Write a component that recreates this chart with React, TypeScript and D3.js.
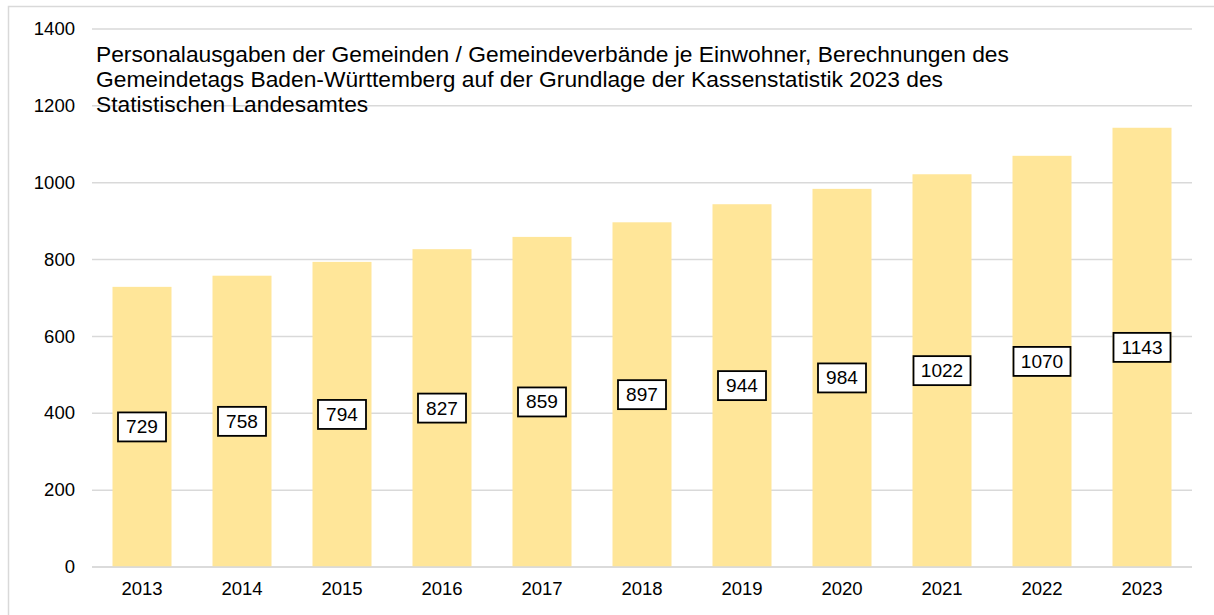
import React from "react";
import * as d3 from "d3";

const years = ["2013","2014","2015","2016","2017","2018","2019","2020","2021","2022","2023"];
const values = [729, 758, 794, 827, 859, 897, 944, 984, 1022, 1070, 1143];
const yTicks = [0, 200, 400, 600, 800, 1000, 1200, 1400];
const titleLines = [
  "Personalausgaben der Gemeinden / Gemeindeverbände je Einwohner, Berechnungen des",
  "Gemeindetags Baden-Württemberg auf der Grundlage der Kassenstatistik 2023 des",
  "Statistischen Landesamtes",
];

const W = 1214, H = 615;
const FONT = "'Liberation Sans', Arial, sans-serif";
const SX = 1.06;

function T(props: { x: number; y: number; anchor?: string; size: number; dy?: string; children: any }) {
  return (
    <text
      transform={`translate(${props.x},${props.y}) scale(${SX},1)`}
      dy={props.dy}
      textAnchor={props.anchor || "start"}
      fontSize={props.size}
      fill="#000"
    >
      {props.children}
    </text>
  );
}

export default function App() {
  const x = d3.scaleBand<string>().domain(years).range([92, 1192]).paddingInner(0.41).paddingOuter(0.205);
  const y = d3.scaleLinear().domain([0, 1400]).range([567, 29]);
  const labelW = (v: number) => (String(v).length > 3 ? 57 : 48);
  return (
    <svg width={W} height={H} style={{ position: "absolute", left: 0, top: 0, fontFamily: FONT }}>
      <rect x={0} y={0} width={W} height={H} fill="#fff" />
      <rect x={8.5} y={6.5} width={W + 20} height={H + 20} fill="none" stroke="#D9D9D9" strokeWidth={1.5} />
      {yTicks.map((t) => (
        <g key={t}>
          <line x1={92} x2={1192} y1={y(t)} y2={y(t)} stroke="#D9D9D9" strokeWidth={1.5} />
          <T x={75} y={y(t)} dy="0.35em" anchor="end" size={17.5}>{t}</T>
        </g>
      ))}
      {years.map((yr, i) => (
        <rect key={yr} x={x(yr)} y={y(values[i])} width={x.bandwidth()} height={y(0) - y(values[i])} fill="#FFE699" />
      ))}
      <line x1={92} x2={1192} y1={y(0)} y2={y(0)} stroke="#D9D9D9" strokeWidth={1.5} />
      {years.map((yr) => (
        <T key={yr} x={(x(yr) as number) + x.bandwidth() / 2} y={595} anchor="middle" size={17.5}>{yr}</T>
      ))}
      {titleLines.map((l, i) => (
        <T key={i} x={96} y={62 + i * 25} size={21.5}>{l}</T>
      ))}
      {years.map((yr, i) => {
        const cx = (x(yr) as number) + x.bandwidth() / 2;
        const cy = (y(0) + y(values[i])) / 2;
        const w = labelW(values[i]);
        return (
          <g key={"l" + yr}>
            <rect x={cx - w / 2} y={cy - 14.5} width={w} height={29} fill="#fff" stroke="#000" strokeWidth={1.8} />
            <T x={cx} y={cy} dy="0.36em" anchor="middle" size={18}>{values[i]}</T>
          </g>
        );
      })}
    </svg>
  );
}
